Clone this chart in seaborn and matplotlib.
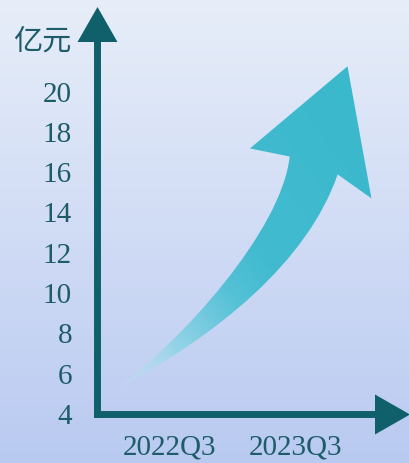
import numpy as np
import matplotlib
matplotlib.use("Agg")
import matplotlib.pyplot as plt
from matplotlib.path import Path
from matplotlib.patches import PathPatch
from matplotlib.colors import LinearSegmentedColormap
import seaborn as sns

# ---- data -------------------------------------------------------------
quarters = ["2022Q3", "2023Q3"]
y_ticks = [4, 6, 8, 10, 12, 14, 16, 18, 20]
unit_label = "亿元"
trend_x = [-0.46, 1.42]        # tail / tip of the growth arrow (quarter index)
trend_values = [5.1, 21.2]     # 亿元

AXIS = "#10606c"
TEXT = "#1d5c68"

sns.set_theme(style="white")
plt.rcParams["font.family"] = ["Liberation Serif", "Noto Sans CJK SC", "DejaVu Sans"]

fig = plt.figure(figsize=(4.10, 4.64), dpi=100)
ax = fig.add_axes([0, 0, 1, 1])
xlim = (-1.36, 1.92)
ylim = (1.52, 24.54)

# soft vertical background wash
bg = sns.blend_palette(["#b9caf1", "#d1dcf5", "#e7eef9"], as_cmap=True)
ax.imshow(np.linspace(0, 1, 256).reshape(-1, 1), cmap=bg, origin="lower",
          extent=(*xlim, *ylim), aspect="auto", zorder=0)

# ---- axes with arrowheads ---------------------------------------------
x_axis = -0.588
y_axis = 3.93
for s in ["top", "right"]:
    ax.spines[s].set_visible(False)
for s in ["left", "bottom"]:
    sp = ax.spines[s]
    sp.set_color(AXIS)
    sp.set_linewidth(5.0)
    sp.set_capstyle("projecting")
    sp.set_zorder(4)
ax.spines["left"].set_position(("data", x_axis))
ax.spines["bottom"].set_position(("data", y_axis))
ax.spines["left"].set_bounds(y_axis, 22.6)
ax.spines["bottom"].set_bounds(x_axis, 1.65)

up_head = [(-20, -17.5), (20, -17.5), (0, 17.5), (-20, -17.5)]
right_head = [(-17.5, -20), (-17.5, 20), (17.5, 0), (-17.5, -20)]
ax.plot([x_axis], [23.32], marker=up_head, markersize=28.8, color=AXIS,
        markeredgewidth=0, zorder=5, clip_on=False)
ax.plot([1.772], [y_axis], marker=right_head, markersize=28.8, color=AXIS,
        markeredgewidth=0, zorder=5, clip_on=False)

# ---- curved growth arrow ----------------------------------------------
x0, x1 = trend_x
v0, v1 = trend_values
dx, dv = x1 - x0, v1 - v0

def to_data(u, w):
    return (x0 + u * dx, v0 + w * dv)

# outline in a unit frame: (0, 0) = tail, (1, 1) = tip
shape = [
    ((0.0, 0.0), Path.MOVETO),
    ((0.288, 0.145), Path.CURVE4),
    ((0.720, 0.494), Path.CURVE4),
    ((0.754, 0.722), Path.CURVE4),
    ((0.585, 0.747), Path.LINETO),
    ((1.0, 1.0), Path.LINETO),
    ((1.102, 0.593), Path.LINETO),
    ((0.958, 0.667), Path.LINETO),
    ((0.831, 0.40), Path.CURVE4),
    ((0.45, 0.17), Path.CURVE4),
    ((0.0, 0.0), Path.CURVE4),
    ((0.0, 0.0), Path.CLOSEPOLY),
]
verts = [to_data(*p) for p, _ in shape]
codes = [c for _, c in shape]
patch = PathPatch(Path(verts, codes), facecolor="none", edgecolor="none", zorder=2)
ax.add_patch(patch)

umin, umax, wmin, wmax = -0.05, 1.15, -0.05, 1.05
uu, ww = np.meshgrid(np.linspace(umin, umax, 300), np.linspace(wmin, wmax, 300))
s = np.clip(0.5 * uu + 0.5 * ww, 0, 1)
arrow_cmap = LinearSegmentedColormap.from_list(
    "trend", [(0.0, "#c8e4f3"), (0.15, "#a4d8eb"), (0.28, "#7ccce1"),
              (0.40, "#55c1d6"), (0.52, "#42bbd0"), (1.0, "#3ab8cc")])
rgba = arrow_cmap(s)
rgba[..., 3] = np.clip(0.2 + s / 0.2 * 0.8, 0, 1)
img = ax.imshow(rgba, origin="lower", aspect="auto", zorder=2,
                extent=(x0 + umin * dx, x0 + umax * dx, v0 + wmin * dv, v0 + wmax * dv))
img.set_clip_path(patch)

# ---- ticks and labels --------------------------------------------------
ax.set_xlim(*xlim)
ax.set_ylim(*ylim)
ax.set_yticks(y_ticks)
ax.set_yticklabels([str(t) for t in y_ticks])
ax.set_xticks(range(len(quarters)))
ax.set_xticklabels(quarters)
ax.tick_params(axis="y", length=0, pad=17.6, labelsize=21, labelcolor=TEXT)
ax.tick_params(axis="x", length=0, pad=14, labelsize=21, labelcolor=TEXT)
ax.grid(False)

ax.set_ylabel(unit_label, rotation=0, fontsize=21, color=TEXT,
              family=["Noto Sans CJK SC", "DejaVu Sans"], ha="center", va="center")
ax.yaxis.set_label_coords(42 / 410, 1 - 42 / 464)

fig.savefig("out.png", dpi=100)
